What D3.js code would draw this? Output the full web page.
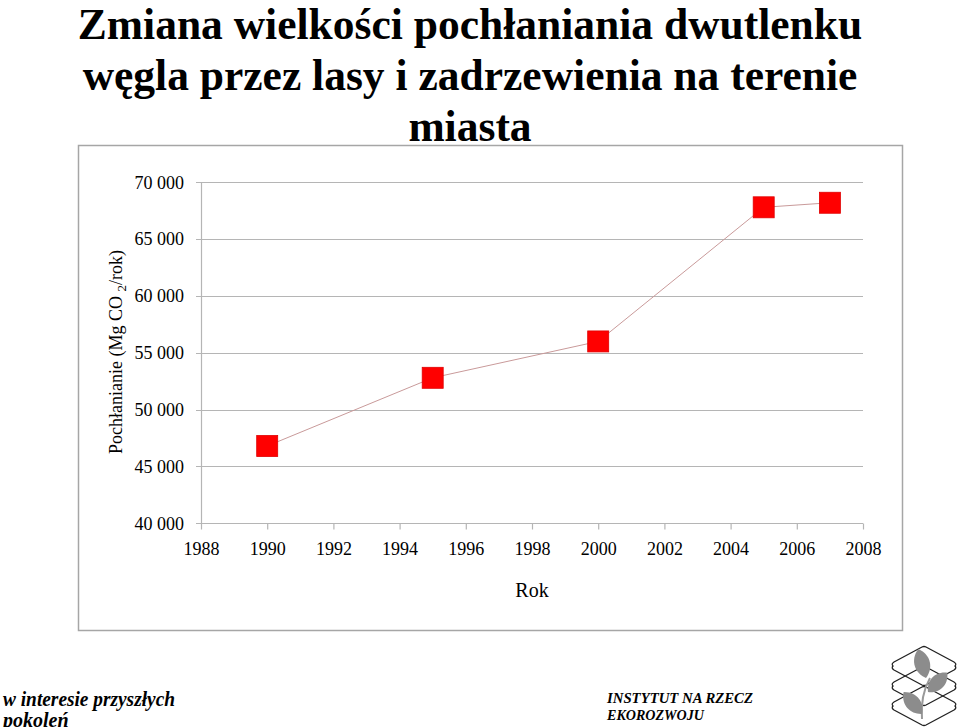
<!DOCTYPE html>
<html><head><meta charset="utf-8">
<script src="https://cdn.jsdelivr.net/npm/d3@7"></script>
<style>body{margin:0;background:#fff}svg{display:block}</style>
</head><body>
<svg id="c" width="960" height="727"></svg>
<script>
const titleLines = ["Zmiana wielkości pochłaniania dwutlenku", "węgla przez lasy i zadrzewienia na terenie", "miasta"];
const years = [1990, 1995, 2000, 2005, 2007];
const values = [46800, 52800, 56000, 67800, 68200];
const xTicks = [1988, 1990, 1992, 1994, 1996, 1998, 2000, 2002, 2004, 2006, 2008];
const yTicks = [40000, 45000, 50000, 55000, 60000, 65000, 70000];
const xLabel = "Rok";
const footerLeft = ["w interesie przyszłych", "pokoleń"];
const footerRight = ["INSTYTUT  NA  RZECZ", "EKOROZWOJU"];

const svg = d3.select("#c");
const serif = "'Liberation Serif','Times New Roman',serif";

// Title
svg.append("g").selectAll("text").data(titleLines).join("text")
  .attr("x", 470).attr("y", (d,i)=>39+i*51)
  .attr("text-anchor","middle").attr("font-family",serif)
  .attr("font-weight","bold").attr("font-size",43.5).attr("fill","#000")
  .text(d=>d);

// Chart frame
svg.append("rect").attr("x",78.5).attr("y",145.5).attr("width",824).attr("height",485)
  .attr("fill","#fff").attr("stroke","#a6a6a6").attr("stroke-width",1.5);

const x = d3.scaleLinear().domain([1988,2008]).range([201,863]);
const y = d3.scaleLinear().domain([40000,70000]).range([523.3,182.3]);

// gridlines
svg.append("g").selectAll("line").data(yTicks).join("line")
  .attr("x1",196).attr("x2",863).attr("y1",d=>Math.round(y(d))+0.5).attr("y2",d=>Math.round(y(d))+0.5)
  .attr("stroke","#b5b5b5").attr("stroke-width",1.2);

// y axis line
svg.append("line").attr("x1",201.5).attr("x2",201.5).attr("y1",y(70000)).attr("y2",y(40000))
  .attr("stroke","#b5b5b5").attr("stroke-width",1.2);

// x axis
const xAxis = d3.axisBottom(x).tickValues(xTicks).tickFormat(d3.format("d")).tickSize(6).tickPadding(13);
const gx = svg.append("g").attr("transform",`translate(0,${Math.round(y(40000))+0.5})`).call(xAxis);
gx.select(".domain").remove();
gx.selectAll(".tick line").attr("stroke","#b5b5b5").attr("stroke-width",1.2);
gx.selectAll(".tick text").attr("font-family",serif).attr("font-size",18).attr("fill","#000");

// y axis labels
const yAxis = d3.axisLeft(y).tickValues(yTicks).tickFormat(d=>d3.format(",")(d).replace(",", " ")).tickSize(0).tickPadding(17);
const gy = svg.append("g").attr("transform","translate(201,0)").call(yAxis);
gy.select(".domain").remove();
gy.selectAll(".tick text").attr("font-family",serif).attr("font-size",18).attr("fill","#000");

// axis titles
svg.append("text").attr("x",532).attr("y",597).attr("text-anchor","middle")
  .attr("font-family",serif).attr("font-size",20).text(xLabel);

const yt = svg.append("text").attr("transform","translate(122,352) rotate(-90)")
  .attr("text-anchor","middle").attr("font-family",serif).attr("font-size",18);
yt.append("tspan").text("Pochłanianie (Mg CO  ");
yt.append("tspan").attr("font-size",13).attr("dy",4).text("2");
yt.append("tspan").attr("dy",-4).text("/rok)");

// line
const pts = years.map((yr,i)=>[yr,values[i]]);
svg.append("path").datum(pts)
  .attr("d", d3.line().x(d=>x(d[0])).y(d=>y(d[1])))
  .attr("fill","none").attr("stroke","#c99a9a").attr("stroke-width",1);

// markers
const s = 21;
svg.append("g").selectAll("rect").data(pts).join("rect")
  .attr("x",d=>x(d[0])-s/2).attr("y",d=>y(d[1])-s/2).attr("width",s).attr("height",s)
  .attr("fill","#ff0000").attr("stroke","#e00000").attr("stroke-width",0.8);

// footer
svg.append("g").selectAll("text").data(footerLeft).join("text")
  .attr("x",3).attr("y",(d,i)=>706+i*21)
  .attr("font-family",serif).attr("font-weight","bold").attr("font-style","italic")
  .attr("font-size",20).text(d=>d)
  .attr("textLength",(d,i)=>i===0?172:null).attr("lengthAdjust","spacingAndGlyphs");
svg.append("g").selectAll("text").data(footerRight).join("text")
  .attr("x",607).attr("y",(d,i)=>703+i*17)
  .attr("font-family",serif).attr("font-weight","bold").attr("font-style","italic")
  .attr("font-size",15).text(d=>d)
  .attr("textLength",(d,i)=>i===0?146:97).attr("lengthAdjust","spacingAndGlyphs");

// logo
const logo = svg.append("g").attr("transform","translate(924,686)");
[-20,0,20].forEach(cy=>{
  logo.append("path")
    .attr("d",`M-31,${cy} Q-33,${cy-2} -30,${cy-4} L-2,${cy-19} Q0,${cy-20} 2,${cy-19} L30,${cy-4} Q33,${cy-2} 31,${cy} Q33,${cy+2} 30,${cy+4} L2,${cy+19} Q0,${cy+20} -2,${cy+19} L-30,${cy+4} Q-33,${cy+2} -31,${cy}Z`)
    .attr("fill","none").attr("stroke","#222").attr("stroke-width",1.3);
});
logo.append("path").attr("d","M-2,33 Q-4,10 6,-8").attr("fill","none").attr("stroke","#999").attr("stroke-width",2);
const leaf = (tx,ty,rot,sc)=>logo.append("path")
  .attr("d","M0,0 C-8,-6 -10,-18 0,-26 C10,-18 8,-6 0,0Z")
  .attr("transform",`translate(${tx},${ty}) rotate(${rot}) scale(${sc})`)
  .attr("fill","#8c8c8c");
leaf(2,-8,-15,1.15);
leaf(4,6,45,1.05);
leaf(-2,28,-40,1.1);
</script>
</body></html>
